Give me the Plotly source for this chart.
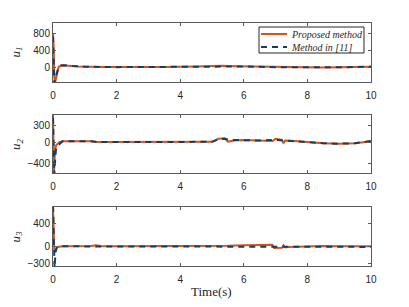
import plotly.graph_objects as go

# ---------------- data ----------------
x_ticks = [0, 2, 4, 6, 8, 10]

# u1
u1_prop_t = [0, 0.02, 0.04, 0.06, 0.10, 0.18, 0.28, 0.45, 0.8, 1.5, 2.5, 3.5, 4.5, 5.0, 5.3, 5.8, 6.5, 7.0, 7.5, 8.0, 8.5, 9.0, 9.5, 10]
u1_prop_v = [800, 500, -200, -380, -250, 10, 45, 30, 15, 5, 0, 5, 15, 25, 30, 20, 10, 0, -5, -10, -10, -5, 0, 10]
u1_ref_t = [0, 0.02, 0.04, 0.06, 0.10, 0.15, 0.25, 0.35, 0.6, 1.0, 2.0, 3.0, 4.0, 5.0, 5.5, 6.0, 7.0, 8.0, 9.0, 10]
u1_ref_v = [720, 300, -380, -300, -180, -60, 40, 45, 25, 10, 0, 5, 10, 20, 25, 15, 0, -10, -5, 10]

# u2
u2_prop_t = [0, 0.015, 0.03, 0.06, 0.10, 0.2, 0.3, 0.6, 1.2, 1.4, 2.0, 3.0, 4.0, 5.0, 5.2, 5.4, 5.5, 5.7, 6.0, 6.5, 6.9, 7.0, 7.2, 7.25, 7.3, 7.6, 8.0, 8.5, 9.0, 9.5, 10]
u2_prop_v = [520, 200, -600, -150, -60, 0, 15, 15, 15, 0, 0, 0, 0, 5, 60, 70, 10, 30, 40, 30, 20, 60, 40, -20, 30, 20, 0, -20, -30, -20, 15]
u2_ref_t = [0, 0.02, 0.04, 0.07, 0.10, 0.2, 0.3, 0.6, 1.2, 1.4, 2.0, 3.0, 4.0, 5.0, 5.2, 5.4, 5.6, 6.0, 6.5, 7.0, 7.5, 8.0, 8.5, 9.0, 9.5, 10]
u2_ref_v = [450, -100, -600, -300, -100, -40, 15, 15, 15, 0, 0, 0, 0, 5, 50, 60, 40, 35, 30, 40, 25, 0, -20, -30, -20, 20]

# u3
u3_prop_t = [0, 0.02, 0.04, 0.06, 0.09, 0.15, 0.3, 0.8, 1.2, 1.35, 1.5, 2.0, 3.0, 4.0, 5.0, 5.5, 6.0, 6.5, 6.9, 6.95, 7.2, 7.25, 7.3, 7.4, 8.0, 8.5, 9.0, 10]
u3_prop_v = [720, 300, -80, -60, -50, -10, 0, 0, 5, 20, 5, 0, 0, 0, 5, 10, 20, 25, 30, -30, -25, 20, -20, -10, 0, 5, 0, 0]
u3_ref_t = [0, 0.02, 0.035, 0.05, 0.08, 0.12, 0.2, 0.5, 1.0, 2.0, 3.0, 4.0, 5.0, 6.0, 7.0, 8.0, 9.0, 10]
u3_ref_v = [720, -100, -380, -380, -100, -20, 0, 0, 0, -5, -5, -5, 0, 0, -5, -10, -10, -10]

panel_names = ["1", "2", "3"]
y_ranges = [[-350, 1040], [-570, 500], [-350, 700]]
y_ticks = [[0, 400, 800], [-400, 0, 300], [-300, 0, 400]]

legend_names = ["Proposed method", "Method in [11]"]

# ---------------- layout geometry ----------------
W, H = 409, 307


def px(x):
    return x / W


def py(y):
    return 1 - y / H


x0, x1 = 53, 371
rows_px = [(23, 82), (115, 173), (207, 266)]

ORANGE = "#D95319"
BLUE = "#0F3F66"
AXIS = "#5a5a5a"
TICKFONT = dict(family="Liberation Sans, Arial, sans-serif", size=10, color="#262626")
SERIF = "Liberation Serif, Times New Roman, serif"

series = [
    ((u1_prop_t, u1_prop_v), (u1_ref_t, u1_ref_v)),
    ((u2_prop_t, u2_prop_v), (u2_ref_t, u2_ref_v)),
    ((u3_prop_t, u3_prop_v), (u3_ref_t, u3_ref_v)),
]

fig = go.Figure()
layout = dict(
    width=W, height=H, margin=dict(l=0, r=0, t=0, b=0, autoexpand=False),
    paper_bgcolor="white", plot_bgcolor="white", showlegend=False,
)
annotations = []
shapes = []
for i in range(3):
    k = "" if i == 0 else str(i + 1)
    top, bot = rows_px[i]
    layout["xaxis" + k] = dict(domain=[px(x0), px(x1)], range=[0, 10], tickvals=x_ticks,
                               ticks="inside", ticklen=3, tickcolor=AXIS, showline=True,
                               linecolor=AXIS, linewidth=1, mirror="allticks",
                               showgrid=False, zeroline=False, tickfont=TICKFONT,
                               anchor="y" + k, automargin=False, ticklabelstandoff=4)
    layout["yaxis" + k] = dict(domain=[py(bot), py(top)], range=y_ranges[i],
                               tickvals=y_ticks[i], ticks="inside", ticklen=3,
                               tickcolor=AXIS, showline=True, linecolor=AXIS,
                               linewidth=1, mirror="allticks", showgrid=False,
                               zeroline=False, tickfont=TICKFONT, anchor="x" + k,
                               automargin=False)
    (tp, vp), (tr, vr) = series[i]
    fig.add_trace(go.Scatter(x=tp, y=vp, mode="lines", name=legend_names[0],
                             line=dict(color=ORANGE, width=2),
                             xaxis="x" + k, yaxis="y" + k))
    fig.add_trace(go.Scatter(x=tr, y=vr, mode="lines", name=legend_names[1],
                             line=dict(color=BLUE, width=2, dash="6px,5px"),
                             xaxis="x" + k, yaxis="y" + k))
    annotations.append(dict(text="<i>u</i><sub><i>" + panel_names[i] + "</i></sub>",
                            x=px(16), y=py((top + bot) / 2), xref="paper",
                            yref="paper", showarrow=False, textangle=-90,
                            xanchor="center", yanchor="middle",
                            font=dict(family=SERIF, size=13, color="#262626")))

annotations.append(dict(text="Time(s)", x=px((x0 + x1) / 2), y=py(291),
                        xref="paper", yref="paper", showarrow=False,
                        xanchor="center", yanchor="middle",
                        font=dict(family=SERIF, size=13, color="#262626")))

# legend box (drawn manually to match the compact MATLAB legend)
lg_l, lg_r, lg_t, lg_b = 259, 364, 27, 53
shapes.append(dict(type="rect", xref="paper", yref="paper",
                   x0=px(lg_l), x1=px(lg_r), y0=py(lg_b), y1=py(lg_t),
                   fillcolor="white", line=dict(color="#262626", width=1), layer="above"))
for j, (yy, col, dash) in enumerate([(34, ORANGE, "solid"), (47, BLUE, "6px,5px")]):
    shapes.append(dict(type="line", xref="paper", yref="paper",
                       x0=px(261), x1=px(287), y0=py(yy), y1=py(yy),
                       line=dict(color=col, width=2, dash=dash), layer="above"))
    annotations.append(dict(text="<i>" + legend_names[j] + "</i>", x=px(289), y=py(yy),
                            xref="paper", yref="paper", xanchor="left",
                            yanchor="middle", showarrow=False,
                            font=dict(family=SERIF, size=10, color="#262626")))

layout["annotations"] = annotations
layout["shapes"] = shapes
fig.update_layout(**layout)
fig.write_html("out.html", config={"displayModeBar": False},
               post_script="document.body.style.margin='0';")
